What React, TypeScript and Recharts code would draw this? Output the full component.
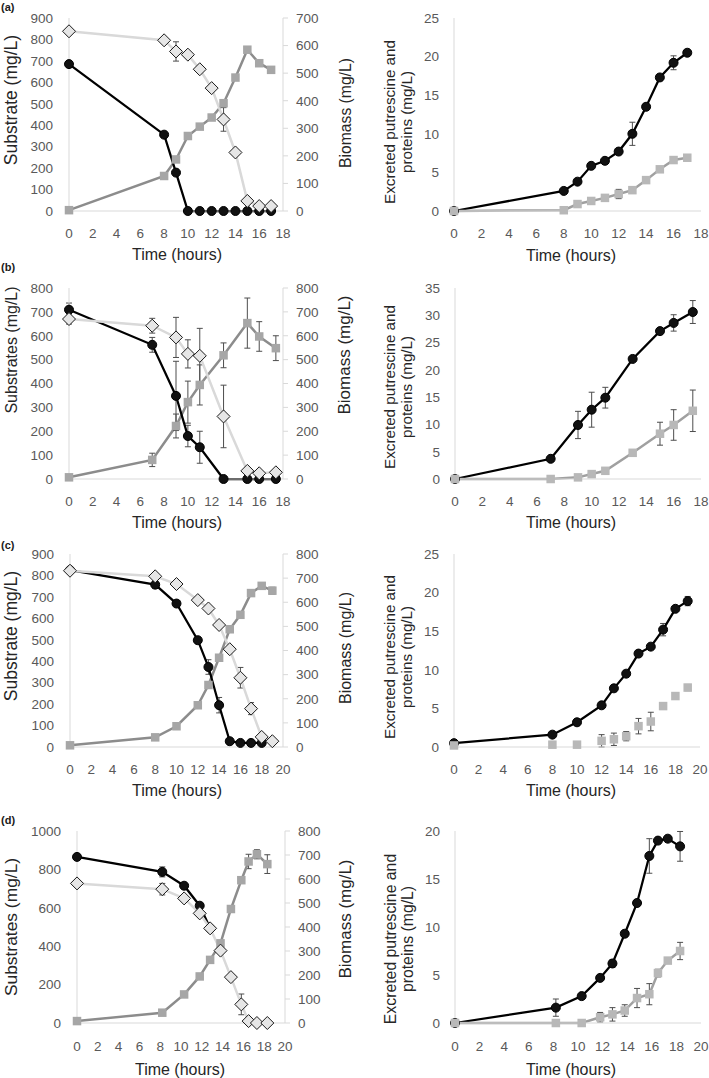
import React from 'react';
import { ComposedChart, Line, XAxis, YAxis, ErrorBar } from 'recharts';

const FONT = '"Liberation Sans", Arial, Helvetica, sans-serif';

// axis ticks
const xTicks18 = [0, 2, 4, 6, 8, 10, 12, 14, 16, 18];
const xTicks20 = [0, 2, 4, 6, 8, 10, 12, 14, 16, 18, 20];
const ticks700 = [0, 100, 200, 300, 400, 500, 600, 700];
const ticks800 = [0, 100, 200, 300, 400, 500, 600, 700, 800];
const ticks900 = [0, 100, 200, 300, 400, 500, 600, 700, 800, 900];
const ticks1000 = [0, 200, 400, 600, 800, 1000];
const ticks20 = [0, 5, 10, 15, 20];
const ticks25 = [0, 5, 10, 15, 20, 25];
const ticks35 = [0, 5, 10, 15, 20, 25, 30, 35];

// (a)
const timeA = [0, 8, 9, 10, 11, 12, 13, 14, 15, 16, 17];
const circleSubA = [685, 356, 179, 0, 0, 0, 0, 0, 0, 0, 0];
const diamondSubA = [838, 796, 744, 729, 661, 573, 427, 273, 47, 23, 23];
const diamondErrA = [0, 0, 45, 0, 0, 0, 55, 0, 0, 0, 0];
const biomassA = [3, 127, 187, 272, 306, 339, 391, 484, 585, 536, 512];
const putrescineA = [0, 2.6, 3.8, 5.85, 6.5, 7.7, 10.0, 13.5, 17.3, 19.2, 20.5];
const putrescineErrA = [0, 0, 0, 0, 0, 0, 1.5, 0, 0, 0.9, 0];
const proteinA = [0, 0.1, 0.9, 1.3, 1.7, 2.2, 2.7, 4.0, 5.4, 6.6, 6.9];
const proteinErrA = [0, 0, 0, 0, 0, 0.6, 0, 0, 0, 0, 0];

// (b)
const timeB = [0, 7, 9, 10, 11, 13, 15, 16, 17.4];
const circleSubB = [709, 562, 348, 180, 133, 0, 0, 0, 0];
const circleErrB = [28, 31, 145, 45, 67, 0, 0, 0, 0];
const diamondSubB = [670, 642, 593, 524, 516, 262, 34, 24, 28];
const diamondErrB = [21, 31, 84, 59, 115, 131, 0, 0, 0];
const biomassB = [7, 80, 222, 322, 394, 518, 653, 597, 548];
const biomassErrB = [0, 28, 50, 88, 84, 52, 105, 62, 52];
const putrescineB = [0, 3.7, 9.9, 12.7, 14.9, 22.0, 27.1, 28.6, 30.6];
const putrescineErrB = [0, 0.5, 2.5, 3.2, 1.9, 0, 0.5, 1.5, 2.1];
const proteinB = [0, 0, 0.3, 0.9, 1.5, 4.8, 8.3, 9.9, 12.5];
const proteinErrB = [0, 0, 0, 0, 0, 0, 2.1, 2.8, 3.8];

// (c)
const timeC = [0, 8, 10, 12, 13, 14, 15, 16, 17, 18, 19];
const circleTimeC = [0, 8, 10, 12, 13, 14, 15, 16, 17, 18];
const circleSubC = [825, 757, 669, 498, 373, 195, 27, 19, 19, 19];
const circleErrC = [0, 17, 0, 0, 34, 36, 0, 0, 0, 0];
const diamondSubC = [822, 796, 760, 685, 646, 569, 456, 323, 179, 47, 27];
const diamondErrC = [0, 0, 0, 0, 0, 0, 0, 48, 28, 0, 0];
const biomassC = [7, 40, 86, 173, 257, 370, 488, 548, 638, 668, 648];
const biomassErrC = [0, 0, 0, 0, 0, 0, 0, 12, 14, 10, 14];
const putrescineC = [0.5, 1.6, 3.2, 5.4, 7.6, 9.5, 12.1, 13.0, 15.2, 17.9, 18.9];
const putrescineErrC = [0, 0, 0, 0.4, 0.4, 0.4, 0.4, 0, 0.8, 0, 0.6];
const proteinC = [0.2, 0.3, 0.3, 0.8, 1.0, 1.4, 2.7, 3.3, 5.3, 6.6, 7.7];
const proteinErrC = [0, 0, 0, 0.8, 0.8, 0.6, 1.0, 1.2, 0.4, 0, 0.4];

// (d)
const timeD = [0, 8.2, 10.3, 11.8, 12.8, 13.8, 14.8, 15.8, 16.5, 17.3, 18.3];
const circleTimeD = [0, 8.2, 10.3, 11.8, 12.8];
const circleSubD = [865, 787, 715, 611, 493];
const circleErrD = [0, 26, 0, 0, 0];
const diamondSubD = [727, 697, 649, 571, 493, 377, 239, 97, 10, 0, 0];
const diamondErrD = [0, 30, 0, 0, 0, 0, 0, 54, 0, 0, 0];
const biomassD = [8, 43, 119, 194, 263, 332, 475, 595, 673, 703, 662];
const biomassErrD = [0, 0, 0, 0, 0, 0, 0, 0, 30, 19, 39];
const putrescineD = [0, 1.6, 2.8, 4.7, 6.2, 9.3, 12.5, 17.4, 19.0, 19.2, 18.4];
const putrescineErrD = [0, 0.9, 0.3, 0, 0.4, 0.3, 0.3, 1.8, 0, 0, 1.55];
const proteinD = [0, 0, 0, 0.6, 0.9, 1.3, 2.6, 3.0, 5.2, 6.5, 7.5];
const proteinErrD = [0, 0, 0, 0.5, 0.7, 0.6, 1.0, 1.1, 0.4, 0, 0.9];

type Pt = { t: number; v: number; e: number };
const pts = (time: number[], vals: number[], errs?: number[]): Pt[] =>
  time.map((t, i) => ({ t, v: vals[i], e: errs ? errs[i] : 0 }));

const TICK = { fill: '#595959', fontSize: 13.5, fontFamily: FONT };
const AXIS = { stroke: '#d9d9d9', strokeWidth: 1 };
const ERR = { width: 3, stroke: '#4d4d4d', strokeWidth: 1 };

const circleDot = { r: 4.5, fill: '#111', stroke: '#000', strokeWidth: 1 };

const diamondDot = (p: any) => {
  const { cx, cy, index } = p;
  if (cx == null || cy == null) return <g key={`dm-${index}`} />;
  const s = 6.5;
  return (
    <polygon
      key={`dm-${index}`}
      points={`${cx},${cy - s} ${cx + s},${cy} ${cx},${cy + s} ${cx - s},${cy}`}
      fill="#e6e6e6"
      stroke="#1a1a1a"
      strokeWidth={1}
    />
  );
};

const squareDot = (fill: string) => (p: any) => {
  const { cx, cy, index } = p;
  if (cx == null || cy == null) return <g key={`sq-${index}`} />;
  const s = 8.5;
  return <rect key={`sq-${index}`} x={cx - s / 2} y={cy - s / 2} width={s} height={s} fill={fill} />;
};

// titles drawn at chart-local positions
const vTitle = (x: number, y: number, size: number, lines: string[], gap = 17) => () => (
  <text transform={`translate(${x},${y}) rotate(-90)`} textAnchor="middle" fontFamily={FONT} fontSize={size} fill="#262626">
    {lines.map((s, i) => (
      <tspan key={i} x={0} y={(i - (lines.length - 1) / 2) * gap + size * 0.35}>
        {s}
      </tspan>
    ))}
  </text>
);

const hTitle = (x: number, y: number, size: number, text: string) => () => (
  <text x={x} y={y + size * 0.35} textAnchor="middle" fontFamily={FONT} fontSize={size} fill="#262626">
    {text}
  </text>
);

type Box = { top: number; bottom: number; left: number; right: number };

const LEFT_W = 364;

interface LeftProps {
  top: number;
  height: number;
  box: Box;
  xTicks: number[];
  xTickMargin: number;
  leftTicks: number[];
  rightTicks: number[];
  circles: Pt[];
  diamonds: Pt[];
  squares: Pt[];
  leftTitle: [number, number, number, string];
  rightTitle: [number, number, number];
  timeTitle: [number, number];
}

function LeftPanel(p: LeftProps) {
  const { box } = p;
  return (
    <div style={{ position: 'absolute', left: 0, top: p.top, width: LEFT_W, height: p.height }}>
      <ComposedChart width={LEFT_W} height={p.height} margin={{ top: box.top, right: 0, bottom: 0, left: 0 }}>
        <XAxis
          type="number"
          dataKey="t"
          domain={[0, p.xTicks[p.xTicks.length - 1]]}
          ticks={p.xTicks}
          interval={0}
          height={p.height - box.bottom}
          axisLine={AXIS}
          tickLine={false}
          tickSize={6}
          tickMargin={p.xTickMargin}
          tick={TICK}
          label={hTitle(p.timeTitle[0], p.timeTitle[1], 16, 'Time (hours)')}
        />
        <YAxis
          yAxisId="left"
          width={box.left}
          domain={[0, p.leftTicks[p.leftTicks.length - 1]]}
          ticks={p.leftTicks}
          interval={0}
          axisLine={AXIS}
          tickLine={false}
          tickSize={6}
          tickMargin={10}
          tick={TICK}
          label={vTitle(p.leftTitle[0], p.leftTitle[1], p.leftTitle[2], [p.leftTitle[3]])}
        />
        <YAxis
          yAxisId="right"
          orientation="right"
          width={LEFT_W - box.right}
          domain={[0, p.rightTicks[p.rightTicks.length - 1]]}
          ticks={p.rightTicks}
          interval={0}
          axisLine={AXIS}
          tickLine={AXIS}
          tickSize={5}
          tickMargin={8}
          tick={TICK}
          label={vTitle(p.rightTitle[0], p.rightTitle[1], p.rightTitle[2], ['Biomass (mg/L)'])}
        />
        <Line
          yAxisId="right"
          data={p.squares}
          dataKey="v"
          type="linear"
          stroke="#8c8c8c"
          strokeWidth={2.5}
          dot={squareDot('#a6a6a6')}
          activeDot={false}
          isAnimationActive={false}
        >
          <ErrorBar dataKey="e" direction="y" {...ERR} />
        </Line>
        <Line
          yAxisId="left"
          data={p.circles}
          dataKey="v"
          type="linear"
          stroke="#000"
          strokeWidth={2.25}
          dot={circleDot}
          activeDot={false}
          isAnimationActive={false}
        >
          <ErrorBar dataKey="e" direction="y" {...ERR} />
        </Line>
        <Line
          yAxisId="left"
          data={p.diamonds}
          dataKey="v"
          type="linear"
          stroke="#d9d9d9"
          strokeWidth={2.5}
          dot={diamondDot}
          activeDot={false}
          isAnimationActive={false}
        >
          <ErrorBar dataKey="e" direction="y" {...ERR} />
        </Line>
      </ComposedChart>
    </div>
  );
}

interface RightProps {
  top: number;
  height: number;
  box: Box;
  xTicks: number[];
  xTickMargin: number;
  yTicks: number[];
  circles: Pt[];
  squares: Pt[];
  squareLine: boolean;
  yTitleY: number;
  timeTitle: [number, number];
  titleSize: number;
}

function RightPanel(p: RightProps) {
  const { box } = p;
  return (
    <div style={{ position: 'absolute', left: 354, top: p.top, width: 355, height: p.height }}>
      <ComposedChart width={355} height={p.height} margin={{ top: box.top, right: 355 - box.right, bottom: 0, left: 0 }}>
        <XAxis
          type="number"
          dataKey="t"
          domain={[0, p.xTicks[p.xTicks.length - 1]]}
          ticks={p.xTicks}
          interval={0}
          height={p.height - box.bottom}
          axisLine={AXIS}
          tickLine={false}
          tickSize={6}
          tickMargin={p.xTickMargin}
          tick={TICK}
          label={hTitle(p.timeTitle[0], p.timeTitle[1], 16, 'Time (hours)')}
        />
        <YAxis
          width={box.left}
          domain={[0, p.yTicks[p.yTicks.length - 1]]}
          ticks={p.yTicks}
          interval={0}
          axisLine={AXIS}
          tickLine={false}
          tickSize={6}
          tickMargin={9}
          tick={TICK}
          label={vTitle(44.5, p.yTitleY, p.titleSize, ['Excreted putrescine and', 'proteins (mg/L)'])}
        />
        <Line
          data={p.circles}
          dataKey="v"
          type="linear"
          stroke="#000"
          strokeWidth={2.25}
          dot={circleDot}
          activeDot={false}
          isAnimationActive={false}
        >
          <ErrorBar dataKey="e" direction="y" {...ERR} />
        </Line>
        <Line
          data={p.squares}
          dataKey="v"
          type="linear"
          stroke={p.squareLine ? '#a0a0a0' : 'none'}
          strokeWidth={2.5}
          dot={squareDot('#b8b8b8')}
          activeDot={false}
          isAnimationActive={false}
        >
          <ErrorBar dataKey="e" direction="y" {...ERR} />
        </Line>
      </ComposedChart>
    </div>
  );
}

const letterStyle = (top: number): React.CSSProperties => ({
  position: 'absolute',
  left: 1,
  top,
  fontFamily: FONT,
  fontWeight: 'bold',
  fontSize: 11,
  lineHeight: '12px',
  color: '#1a1a1a',
});

export default function App() {
  return (
    <div style={{ position: 'absolute', left: 0, top: 0, width: 709, height: 1078, background: '#fff', overflow: 'hidden' }}>
      <div style={letterStyle(1)}>(a)</div>
      <div style={letterStyle(261)}>(b)</div>
      <div style={letterStyle(539)}>(c)</div>
      <div style={letterStyle(814)}>(d)</div>

      <LeftPanel
        top={0}
        height={268}
        box={{ top: 18, bottom: 211, left: 69, right: 283 }}
        xTicks={xTicks18}
        xTickMargin={11}
        leftTicks={ticks900}
        rightTicks={ticks700}
        circles={pts(timeA, circleSubA)}
        diamonds={pts(timeA, diamondSubA, diamondErrA)}
        squares={pts(timeA, biomassA)}
        leftTitle={[11, 100, 17.5, 'Substrate (mg/L)']}
        rightTitle={[345, 113, 15.7]}
        timeTitle={[177, 254]}
      />
      <RightPanel
        top={0}
        height={268}
        box={{ top: 18, bottom: 211, left: 100, right: 347 }}
        xTicks={xTicks18}
        xTickMargin={11}
        yTicks={ticks25}
        circles={pts(timeA, putrescineA, putrescineErrA)}
        squares={pts(timeA, proteinA, proteinErrA)}
        squareLine
        yTitleY={122}
        timeTitle={[217, 255]}
        titleSize={15.2}
      />

      <LeftPanel
        top={268}
        height={268}
        box={{ top: 20, bottom: 211, left: 69, right: 283 }}
        xTicks={xTicks18}
        xTickMargin={11}
        leftTicks={ticks800}
        rightTicks={ticks800}
        circles={pts(timeB, circleSubB, circleErrB)}
        diamonds={pts(timeB, diamondSubB, diamondErrB)}
        squares={pts(timeB, biomassB, biomassErrB)}
        leftTitle={[11, 82, 16, 'Substrates (mg/L)']}
        rightTitle={[344, 87, 17]}
        timeTitle={[177, 254]}
      />
      <RightPanel
        top={268}
        height={268}
        box={{ top: 20, bottom: 211, left: 101, right: 347 }}
        xTicks={xTicks18}
        xTickMargin={11}
        yTicks={ticks35}
        circles={pts(timeB, putrescineB, putrescineErrB)}
        squares={pts(timeB, proteinB, proteinErrB)}
        squareLine
        yTitleY={119}
        timeTitle={[217, 254]}
        titleSize={15.2}
      />

      <LeftPanel
        top={536}
        height={268}
        box={{ top: 18, bottom: 211, left: 70, right: 283 }}
        xTicks={xTicks20}
        xTickMargin={11}
        leftTicks={ticks900}
        rightTicks={ticks800}
        circles={pts(circleTimeC, circleSubC, circleErrC)}
        diamonds={pts(timeC, diamondSubC, diamondErrC)}
        squares={pts(timeC, biomassC, biomassErrC)}
        leftTitle={[11, 100, 17.5, 'Substrate (mg/L)']}
        rightTitle={[345, 112, 16]}
        timeTitle={[177, 254]}
      />
      <RightPanel
        top={536}
        height={268}
        box={{ top: 18, bottom: 211, left: 100, right: 346 }}
        xTicks={xTicks20}
        xTickMargin={11}
        yTicks={ticks25}
        circles={pts(timeC, putrescineC, putrescineErrC)}
        squares={pts(timeC, proteinC, proteinErrC)}
        squareLine={false}
        yTitleY={121}
        timeTitle={[217, 254]}
        titleSize={15.2}
      />

      <LeftPanel
        top={804}
        height={274}
        box={{ top: 27, bottom: 219, left: 77, right: 285 }}
        xTicks={xTicks20}
        xTickMargin={12}
        leftTicks={ticks1000}
        rightTicks={ticks800}
        circles={pts(circleTimeD, circleSubD, circleErrD)}
        diamonds={pts(timeD, diamondSubD, diamondErrD)}
        squares={pts(timeD, biomassD, biomassErrD)}
        leftTitle={[11, 123, 17.4, 'Substrates (mg/L)']}
        rightTitle={[345, 115, 17]}
        timeTitle={[180, 265]}
      />
      <RightPanel
        top={804}
        height={274}
        box={{ top: 27, bottom: 219, left: 101, right: 347 }}
        xTicks={xTicks20}
        xTickMargin={12}
        yTicks={ticks20}
        circles={pts(timeD, putrescineD, putrescineErrD)}
        squares={pts(timeD, proteinD, proteinErrD)}
        squareLine
        yTitleY={135}
        timeTitle={[217, 265]}
        titleSize={15.8}
      />
    </div>
  );
}
